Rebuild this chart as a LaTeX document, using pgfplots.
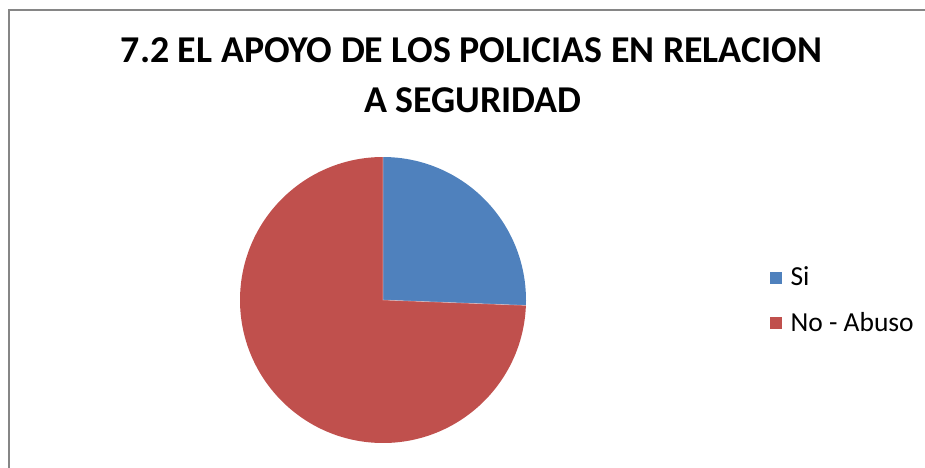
\documentclass[border=0pt]{standalone}
\usepackage{pgfplots}
\pgfplotsset{compat=1.18}
\usepackage{fontspec}
\setmainfont{Carlito}

\definecolor{siblue}{RGB}{79,129,189}
\definecolor{nored}{RGB}{192,80,77}
\definecolor{framegray}{RGB}{134,134,134}

% shares of the two answers (percent)
\def\valSi{25.6}
\def\valNo{74.4}

\begin{document}
\begin{tikzpicture}[x=1pt,y=1pt]
\path[use as bounding box] (0,0) rectangle (925,467);
\draw[framegray, line width=2pt] (9,-5) -- (9,457) -- (935,457);

\node[anchor=base, font=\fontsize{37.9}{44}\selectfont\bfseries] at (471.5,404) {7.2 EL APOYO DE LOS POLICIAS EN RELACION};
\node[anchor=base, font=\fontsize{37.9}{44}\selectfont\bfseries] at (473,355) {A SEGURIDAD};

\pgfmathsetmacro{\angSi}{90-3.6*\valSi}
\pgfmathsetmacro{\angNo}{\angSi-3.6*\valNo}
\pgfmathsetmacro{\bx}{cos(\angSi)}
\pgfmathsetmacro{\by}{sin(\angSi)}

\begin{axis}[
  hide axis,
  scale only axis,
  x=143pt, y=143pt,
  xmin=-1, xmax=1, ymin=-1, ymax=1,
  at={(383pt,167pt)}, anchor=origin,
  clip=false,
  legend cell align={left},
  legend style={
    draw=none, fill=none,
    at={(axis description cs:1.853,0.5)}, anchor=west,
    font=\fontsize{27.5}{33}\selectfont,
    nodes={inner sep=0pt},
    column sep=9pt,
    row sep=25pt,
    inner sep=0pt,
  },
  legend image code/.code={
    \fill[#1] (0pt,-5.5pt) rectangle (11pt,5.5pt);
  },
]
\fill[siblue] (axis cs:0,0) -- (axis cs:0,1) arc[start angle=90, end angle=\angSi, radius=143pt] -- cycle;
\fill[nored] (axis cs:0,0) -- (axis cs:\bx,\by) arc[start angle=\angSi, end angle=\angNo, radius=143pt] -- cycle;
\draw[white, opacity=0.4, line width=0.6pt] (axis cs:0,1) -- (axis cs:0,0) -- (axis cs:\bx,\by);
\addlegendimage{siblue}
\addlegendentry{Si}
\addlegendimage{nored}
\addlegendentry{No - Abuso}
\end{axis}
\end{tikzpicture}
\end{document}
